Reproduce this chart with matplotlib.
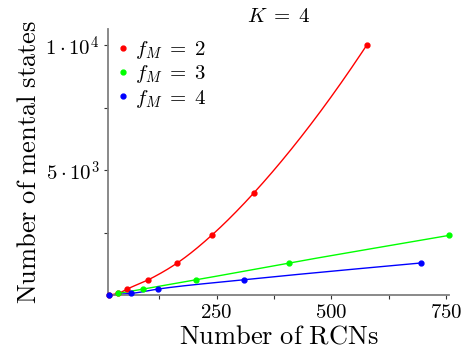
import numpy as np
import matplotlib
matplotlib.use("Agg")
import matplotlib.pyplot as plt
from matplotlib.ticker import FixedLocator

plt.rcParams['mathtext.fontset'] = 'cm'
plt.rcParams['font.family'] = ['DejaVu Serif']

# data
red_x = [15, 35, 55, 101, 164, 239, 331, 577]
red_y = [16, 81, 256, 625, 1296, 2401, 4096, 10000]
green_x = [35, 90, 206, 408, 757]
green_y = [81, 256, 625, 1296, 2401]
blue_x = [15, 64, 123, 309, 695]
blue_y = [16, 81, 256, 625, 1296]
labels = [r'$f_M\;=\;2$', r'$f_M\;=\;3$', r'$f_M\;=\;4$']
colors = ['#ff0000', '#00ff00', '#0000ff']
x_major = [250, 500, 750]
x_minor = [125, 375, 625]
y_major = [5000, 10000]
y_minor = [2500, 7500]
y_major_labels = [r'$5\cdot10^3$', r'$1\cdot10^4$']


def pchip(x, y, n=200):
    x = np.asarray(x, float); y = np.asarray(y, float)
    h = np.diff(x); d = np.diff(y) / h
    m = np.zeros_like(x)
    for k in range(1, len(x) - 1):
        if d[k - 1] * d[k] > 0:
            w1 = 2 * h[k] + h[k - 1]; w2 = h[k] + 2 * h[k - 1]
            m[k] = (w1 + w2) / (w1 / d[k - 1] + w2 / d[k])
    m[0] = d[0]; m[-1] = d[-1]
    xs, ys = [], []
    for k in range(len(x) - 1):
        t = np.linspace(0, 1, n)
        h00 = 2*t**3 - 3*t**2 + 1; h10 = t**3 - 2*t**2 + t
        h01 = -2*t**3 + 3*t**2; h11 = t**3 - t**2
        xs.append(x[k] + t * h[k])
        ys.append(h00*y[k] + h10*h[k]*m[k] + h01*y[k+1] + h11*h[k]*m[k+1])
    return np.concatenate(xs), np.concatenate(ys)


def smooth_curve(x, y):
    lx, ly = pchip(np.log(x), np.log(y))
    return np.exp(lx), np.exp(ly)


fig = plt.figure(figsize=(4.61, 3.52), dpi=100)
ax = fig.add_axes([108/461, 1-295/352, (449-108)/461, (295-29)/352])

for xs, ys, c, lab in [(red_x, red_y, colors[0], labels[0]),
                       (green_x, green_y, colors[1], labels[1]),
                       (blue_x, blue_y, colors[2], labels[2])]:
    cx, cy = smooth_curve(xs, ys)
    ax.plot(cx, cy, color=c, lw=1.0, clip_on=False)
    ax.plot(xs, ys, 'o', color=c, ms=3.5, label=lab, clip_on=False, zorder=5)

ax.set_xlim(13, 757)
ax.set_ylim(16, 10660)
for s in ['top', 'right']:
    ax.spines[s].set_visible(False)
for s in ['left', 'bottom']:
    ax.spines[s].set_color('#808080')
    ax.spines[s].set_linewidth(1.3)

ax.xaxis.set_major_locator(FixedLocator(x_major))
ax.xaxis.set_minor_locator(FixedLocator(x_minor))
ax.yaxis.set_major_locator(FixedLocator(y_major))
ax.yaxis.set_minor_locator(FixedLocator(y_minor))
ax.set_xticklabels([rf'${v}$' for v in x_major])
ax.set_yticklabels(y_major_labels)
ax.tick_params(which='both', direction='out', length=3, width=0.8, color='#333333', labelsize=15, pad=3)

ax.set_xlabel(r'$\mathrm{Number\ of\ RCNs}$', fontsize=19, labelpad=1)
ax.set_ylabel(r'$\mathrm{Number\ of\ mental\ states}$', fontsize=19, labelpad=3)
ax.set_title(r'$K\;=\;4$', fontsize=15, pad=5)

leg = ax.legend(loc='upper left', frameon=False, fontsize=15, handlelength=0.4,
                handletextpad=0.4, labelspacing=0.1, borderaxespad=0.1,
                bbox_to_anchor=(0.0, 1.0), markerscale=1.0)

fig.savefig('out.png', dpi=100)
